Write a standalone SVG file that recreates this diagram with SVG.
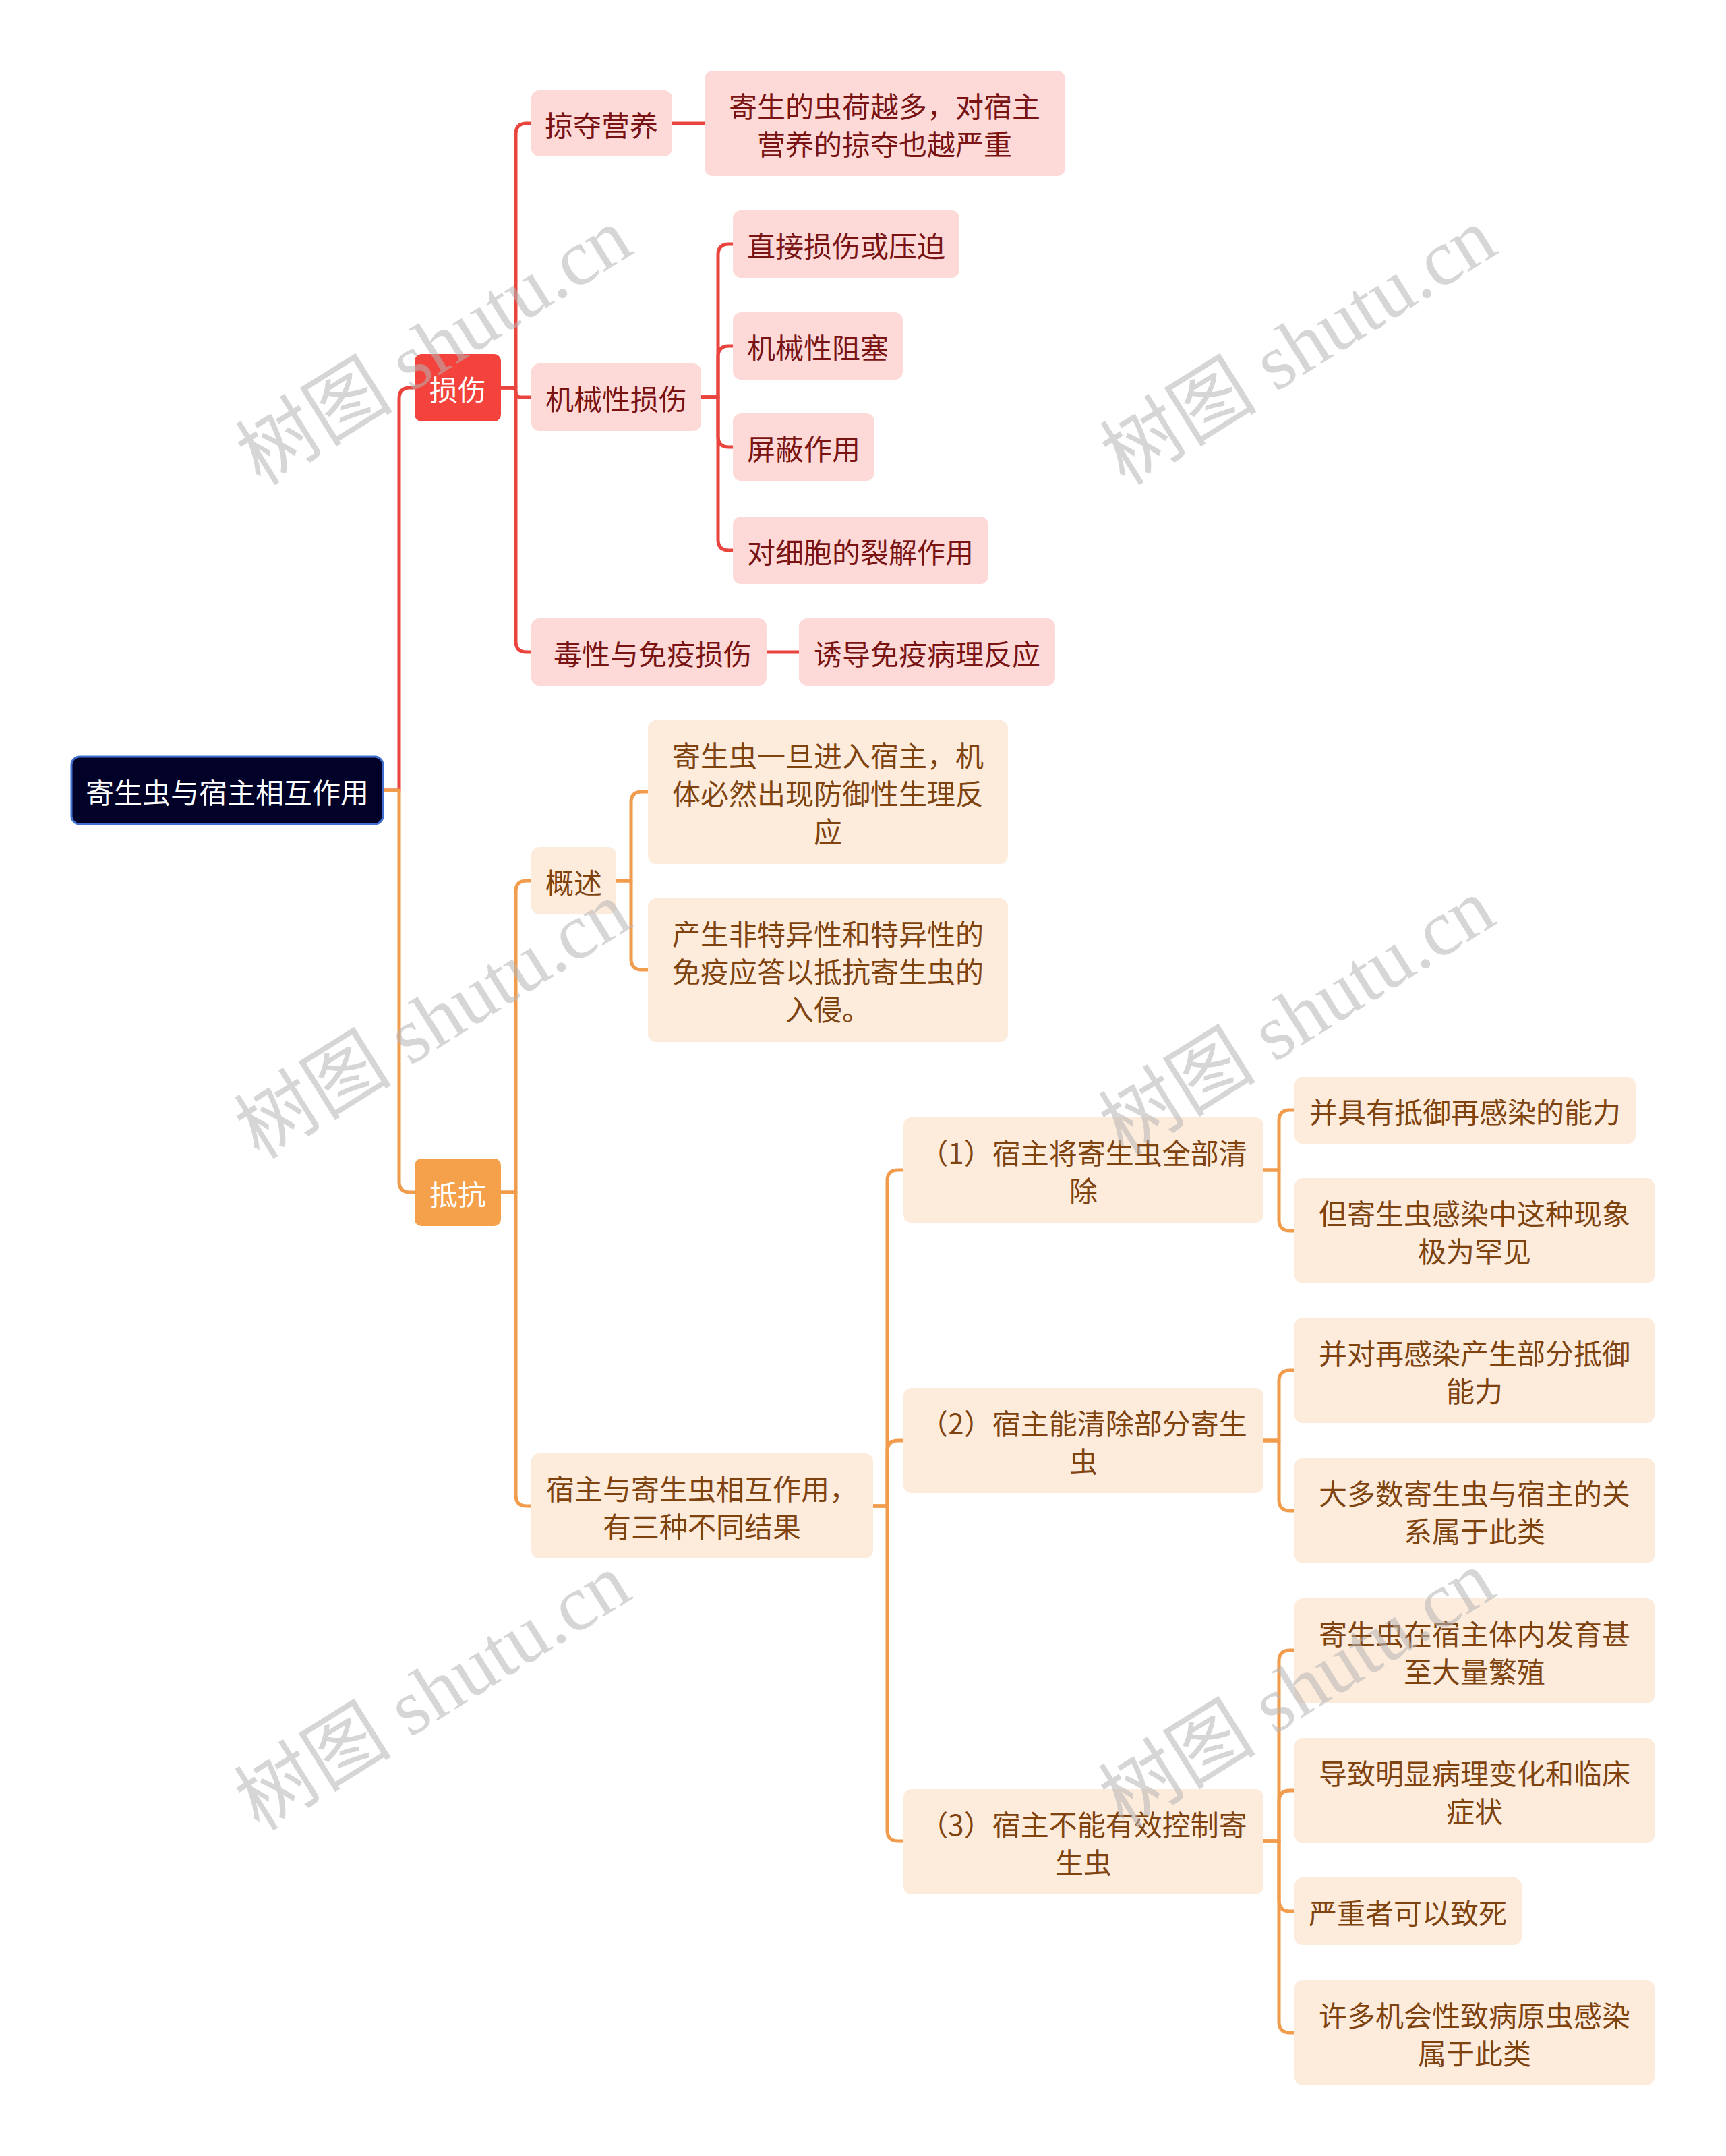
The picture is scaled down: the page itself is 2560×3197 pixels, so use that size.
<svg xmlns="http://www.w3.org/2000/svg" width="2560" height="3197" viewBox="0 0 2560 3197">
<style>
text{font-family:"Noto Sans CJK SC","Noto Sans",sans-serif;font-size:42px;text-anchor:middle;dominant-baseline:central}
.red{fill:none;stroke:#e9443e;stroke-width:5;stroke-linecap:round;stroke-linejoin:round}
.org{fill:none;stroke:#f19c4c;stroke-width:5;stroke-linecap:round;stroke-linejoin:round}
.rn rect{fill:#fddad8}
.rn text{fill:#7a1414}
.on rect{fill:#fdebdc}
.on text{fill:#7f4310}
.wm{font-family:"Liberation Serif","Noto Sans CJK SC",serif;font-size:117px;fill:#b4b4b4;fill-opacity:0.55;text-anchor:middle;dominant-baseline:central}
</style>
<rect width="2560" height="3197" fill="#ffffff"/>
<g id="connectors">
<path class="red" d="M568,1172 H592 V591 Q592,575 608,575 H615"/>
<path class="red" d="M743,575 H765 V199 Q765,183 781,183 H788"/>
<path class="red" d="M743,575 H757 Q765,575 765,582 Q765,589 773,589 H788"/>
<path class="red" d="M743,575 H765 V951 Q765,967 781,967 H788"/>
<path class="red" d="M997,183 H1045"/>
<path class="red" d="M1040,589 H1065 V378 Q1065,362 1081,362 H1087"/>
<path class="red" d="M1040,589 H1065 V529 Q1065,513 1081,513 H1087"/>
<path class="red" d="M1040,589 H1065 V647 Q1065,663 1081,663 H1087"/>
<path class="red" d="M1040,589 H1065 V800 Q1065,816 1081,816 H1087"/>
<path class="red" d="M1137,967 H1185"/>
<path class="org" d="M568,1172 H592 V1752 Q592,1768 608,1768 H615"/>
<path class="org" d="M743,1768 H765 V1322 Q765,1306 781,1306 H788"/>
<path class="org" d="M743,1768 H765 V2217 Q765,2233 781,2233 H788"/>
<path class="org" d="M914,1306 H936 V1190 Q936,1174 952,1174 H961"/>
<path class="org" d="M914,1306 H936 V1422 Q936,1438 952,1438 H961"/>
<path class="org" d="M1295,2233 H1316 V1751 Q1316,1735 1332,1735 H1340"/>
<path class="org" d="M1295,2233 H1316 V2152 Q1316,2136 1332,2136 H1340"/>
<path class="org" d="M1295,2233 H1316 V2714 Q1316,2730 1332,2730 H1340"/>
<path class="org" d="M1874,1735 H1897 V1662 Q1897,1646 1913,1646 H1920"/>
<path class="org" d="M1874,1735 H1897 V1809 Q1897,1825 1913,1825 H1920"/>
<path class="org" d="M1874,2136 H1897 V2048 Q1897,2032 1913,2032 H1920"/>
<path class="org" d="M1874,2136 H1897 V2224 Q1897,2240 1913,2240 H1920"/>
<path class="org" d="M1874,2730 H1897 V2463 Q1897,2447 1913,2447 H1920"/>
<path class="org" d="M1874,2730 H1897 V2671 Q1897,2655 1913,2655 H1920"/>
<path class="org" d="M1874,2730 H1897 V2818 Q1897,2834 1913,2834 H1920"/>
<path class="org" d="M1874,2730 H1897 V2998 Q1897,3014 1913,3014 H1920"/>
</g>
<g id="root"><rect x="106" y="1122" width="462" height="100" rx="12" fill="#020228" stroke="#3f6fd0" stroke-width="3"/><text x="337" y="1172" fill="#ffffff">寄生虫与宿主相互作用</text></g>
<g id="sunshang"><rect x="615" y="525" width="128" height="100" rx="10" fill="#f3433c"/><text x="679" y="575" fill="#ffffff">损伤</text></g>
<g id="dikang"><rect x="615" y="1718" width="128" height="100" rx="10" fill="#f5a04b"/><text x="679" y="1768" fill="#ffffff">抵抗</text></g>
<g id="n1" class="rn"><rect x="788" y="134" width="209" height="98" rx="12"/><text x="892" y="183">掠夺营养</text></g>
<g id="n2" class="rn"><rect x="1045" y="105" width="535" height="156" rx="12"/><text x="1312" y="155">寄生的虫荷越多，对宿主</text><text x="1312" y="211">营养的掠夺也越严重</text></g>
<g id="n3" class="rn"><rect x="788" y="539" width="252" height="100" rx="12"/><text x="914" y="589">机械性损伤</text></g>
<g id="n4" class="rn"><rect x="1087" y="312" width="336" height="100" rx="12"/><text x="1255" y="362">直接损伤或压迫</text></g>
<g id="n5" class="rn"><rect x="1087" y="463" width="252" height="100" rx="12"/><text x="1213" y="513">机械性阻塞</text></g>
<g id="n6" class="rn"><rect x="1087" y="613" width="210" height="100" rx="12"/><text x="1192" y="663">屏蔽作用</text></g>
<g id="n7" class="rn"><rect x="1087" y="766" width="379" height="100" rx="12"/><text x="1276" y="816">对细胞的裂解作用</text></g>
<g id="n8" class="rn"><rect x="788" y="917" width="349" height="100" rx="12"/><text x="968" y="967">毒性与免疫损伤</text></g>
<g id="n9" class="rn"><rect x="1185" y="917" width="380" height="100" rx="12"/><text x="1375" y="967">诱导免疫病理反应</text></g>
<g id="n10" class="on"><rect x="788" y="1256" width="126" height="100" rx="12"/><text x="851" y="1306">概述</text></g>
<g id="n11" class="on"><rect x="961" y="1068" width="534" height="213" rx="12"/><text x="1228" y="1118">寄生虫一旦进入宿主，机</text><text x="1228" y="1174">体必然出现防御性生理反</text><text x="1228" y="1230">应</text></g>
<g id="n12" class="on"><rect x="961" y="1332" width="534" height="213" rx="12"/><text x="1228" y="1382">产生非特异性和特异性的</text><text x="1228" y="1438">免疫应答以抵抗寄生虫的</text><text x="1228" y="1494">入侵。</text></g>
<g id="n13" class="on"><rect x="788" y="2155" width="507" height="156" rx="12"/><text x="1041" y="2205">宿主与寄生虫相互作用，</text><text x="1041" y="2261">有三种不同结果</text></g>
<g id="n14" class="on"><rect x="1340" y="1657" width="534" height="156" rx="12"/><text x="1607" y="1707">（1）宿主将寄生虫全部清</text><text x="1607" y="1763">除</text></g>
<g id="n15" class="on"><rect x="1340" y="2058" width="534" height="156" rx="12"/><text x="1607" y="2108">（2）宿主能清除部分寄生</text><text x="1607" y="2164">虫</text></g>
<g id="n16" class="on"><rect x="1340" y="2653" width="534" height="156" rx="12"/><text x="1607" y="2703">（3）宿主不能有效控制寄</text><text x="1607" y="2759">生虫</text></g>
<g id="n17" class="on"><rect x="1920" y="1597" width="506" height="99" rx="12"/><text x="2173" y="1646">并具有抵御再感染的能力</text></g>
<g id="n18" class="on"><rect x="1920" y="1747" width="534" height="156" rx="12"/><text x="2187" y="1797">但寄生虫感染中这种现象</text><text x="2187" y="1853">极为罕见</text></g>
<g id="n19" class="on"><rect x="1920" y="1954" width="534" height="156" rx="12"/><text x="2187" y="2004">并对再感染产生部分抵御</text><text x="2187" y="2060">能力</text></g>
<g id="n20" class="on"><rect x="1920" y="2162" width="534" height="156" rx="12"/><text x="2187" y="2212">大多数寄生虫与宿主的关</text><text x="2187" y="2268">系属于此类</text></g>
<g id="n21" class="on"><rect x="1920" y="2370" width="534" height="156" rx="12"/><text x="2187" y="2420">寄生虫在宿主体内发育甚</text><text x="2187" y="2476">至大量繁殖</text></g>
<g id="n22" class="on"><rect x="1920" y="2577" width="534" height="156" rx="12"/><text x="2187" y="2627">导致明显病理变化和临床</text><text x="2187" y="2683">症状</text></g>
<g id="n23" class="on"><rect x="1920" y="2784" width="337" height="100" rx="12"/><text x="2088" y="2834">严重者可以致死</text></g>
<g id="n24" class="on"><rect x="1920" y="2936" width="534" height="156" rx="12"/><text x="2187" y="2986">许多机会性致病原虫感染</text><text x="2187" y="3042">属于此类</text></g>
<g id="watermarks">
<text class="wm" transform="translate(644,514) rotate(-32)">树图 shutu.cn</text>
<text class="wm" transform="translate(1926,514) rotate(-32)">树图 shutu.cn</text>
<text class="wm" transform="translate(642,1513) rotate(-32)">树图 shutu.cn</text>
<text class="wm" transform="translate(1924,1508) rotate(-32)">树图 shutu.cn</text>
<text class="wm" transform="translate(642,2509) rotate(-32)">树图 shutu.cn</text>
<text class="wm" transform="translate(1924,2505) rotate(-32)">树图 shutu.cn</text>
</g>
</svg>
